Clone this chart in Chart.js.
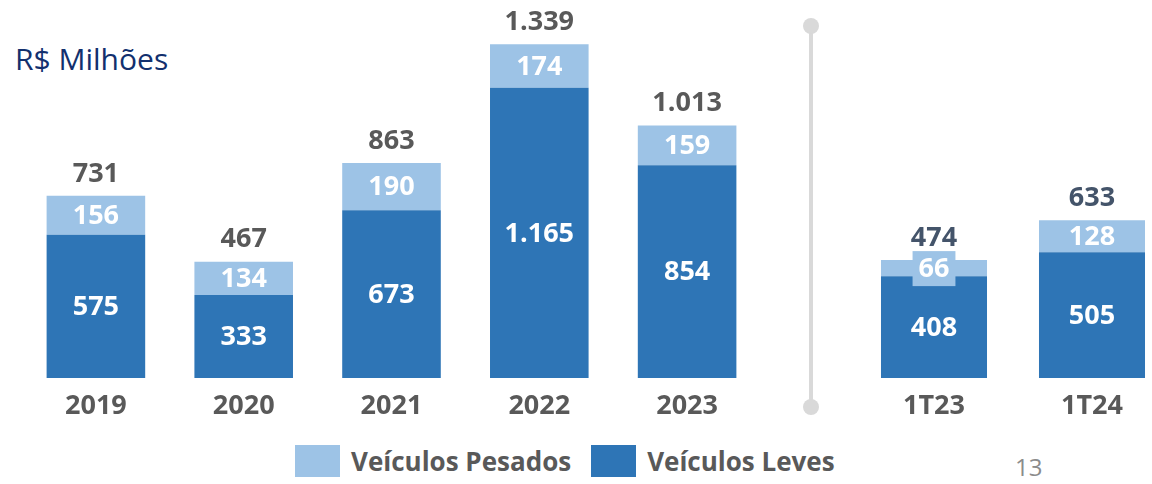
<!DOCTYPE html>
<html>
<head>
<meta charset="utf-8">
<script src="https://cdn.jsdelivr.net/npm/chart.js@4"></script>
<style>
  html, body { margin: 0; padding: 0; background: #fff; }
  #page { position: relative; width: 1152px; height: 484px; overflow: hidden; font-family: "Open Sans", sans-serif; }
  #unit { position: absolute; left: 15px; top: 38px; font-size: 30px; color: #12306e; }
  #pageNum { position: absolute; left: 1015px; top: 450px; font-size: 24px; color: #8c8c8c; }
  #chartLeft { position: absolute; left: 22px; top: 0; }
  #chartRight { position: absolute; left: 855px; top: 0; }
  .sepLine { position: absolute; left: 809px; top: 26px; width: 4px; height: 381px; background: #d9d9d9; }
  .sepDot { position: absolute; width: 16px; height: 16px; border-radius: 50%; background: #d9d9d9; left: 803px; }
  #legend { position: absolute; left: 295px; top: 445px; display: flex; align-items: center; height: 32px; }
  .item { display: flex; align-items: center; margin-right: 20px; font-weight: bold; font-size: 26px; color: #595959; }
  .box { width: 45px; height: 32px; margin-right: 11px; }
</style>
</head>
<body>
<div id="page">
  <div id="unit">R$ Milhões</div>
  <canvas id="chartLeft" width="739" height="440"></canvas>
  <canvas id="chartRight" width="316" height="440"></canvas>
  <div class="sepLine"></div>
  <div class="sepDot" style="top:18px"></div>
  <div class="sepDot" style="top:399px"></div>
  <div id="legend"></div>
  <div id="pageNum">13</div>
</div>
<script>
// anual
const years = ['2019', '2020', '2021', '2022', '2023'];
const levesAno = [575, 333, 673, 1165, 854];
const pesadosAno = [156, 134, 190, 174, 159];

// trimestral
const quarters = ['1T23', '1T24'];
const levesTri = [408, 505];
const pesadosTri = [66, 128];

const seriesNames = ['Veículos Leves', 'Veículos Pesados'];
const colorLeves = '#2e75b6';
const colorPesados = '#9dc3e6';

const yMax = 1517; // same scale on both charts

function fmt(n) {
  return String(n).replace(/\B(?=(\d{3})+(?!\d))/g, '.');
}

const labelPlugin = {
  id: 'barLabels',
  afterDatasetsDraw(chart, args, opts) {
    const ctx = chart.ctx;
    ctx.save();
    ctx.font = 'bold 27px "Open Sans"';
    ctx.textAlign = 'center';
    ctx.textBaseline = 'middle';
    chart.data.datasets.forEach((ds, i) => {
      const meta = chart.getDatasetMeta(i);
      meta.data.forEach((bar, j) => {
        const txt = fmt(ds.data[j]);
        const mid = (bar.y + bar.base) / 2;
        const h = bar.base - bar.y;
        if (h < 30) {
          const w = ctx.measureText(txt).width + 12;
          ctx.fillStyle = ds.backgroundColor;
          ctx.fillRect(bar.x - w / 2, mid - 17, w, 35);
        }
        ctx.fillStyle = '#ffffff';
        ctx.fillText(txt, bar.x, mid + 1);
      });
    });
    // totals above the stack
    const top = chart.getDatasetMeta(chart.data.datasets.length - 1);
    ctx.fillStyle = opts.totalColor;
    top.data.forEach((bar, j) => {
      const total = chart.data.datasets.reduce((s, d) => s + d.data[j], 0);
      ctx.fillText(fmt(total), bar.x, bar.y - 22);
    });
    ctx.restore();
  }
};

function makeChart(id, labels, leves, pesados, barPct, totalColor) {
  return new Chart(document.getElementById(id), {
    type: 'bar',
    data: {
      labels: labels,
      datasets: [
        { label: seriesNames[0], data: leves, backgroundColor: colorLeves },
        { label: seriesNames[1], data: pesados, backgroundColor: colorPesados }
      ]
    },
    options: {
      responsive: false,
      animation: false,
      layout: { padding: 0 },
      datasets: { bar: { categoryPercentage: 1, barPercentage: barPct } },
      plugins: {
        legend: { display: false },
        tooltip: { enabled: false },
        barLabels: { totalColor: totalColor }
      },
      scales: {
        x: {
          stacked: true,
          grid: { display: false, drawTicks: false },
          border: { display: false },
          ticks: { color: '#595959', font: { family: 'Open Sans', weight: 'bold', size: 27 }, padding: 12 },
          afterFit: (s) => { s.height = 62; }
        },
        y: { stacked: true, display: false, min: 0, max: yMax }
      }
    },
    plugins: [labelPlugin]
  });
}

makeChart('chartLeft', years, levesAno, pesadosAno, 0.667, '#595959');
makeChart('chartRight', quarters, levesTri, pesadosTri, 0.671, '#44546a');

// legend: Pesados first, then Leves
const legend = document.getElementById('legend');
[[seriesNames[1], colorPesados], [seriesNames[0], colorLeves]].forEach(([name, col]) => {
  const it = document.createElement('div');
  it.className = 'item';
  const b = document.createElement('div');
  b.className = 'box';
  b.style.background = col;
  const t = document.createElement('span');
  t.textContent = name;
  it.appendChild(b);
  it.appendChild(t);
  legend.appendChild(it);
});
</script>
</body>
</html>
